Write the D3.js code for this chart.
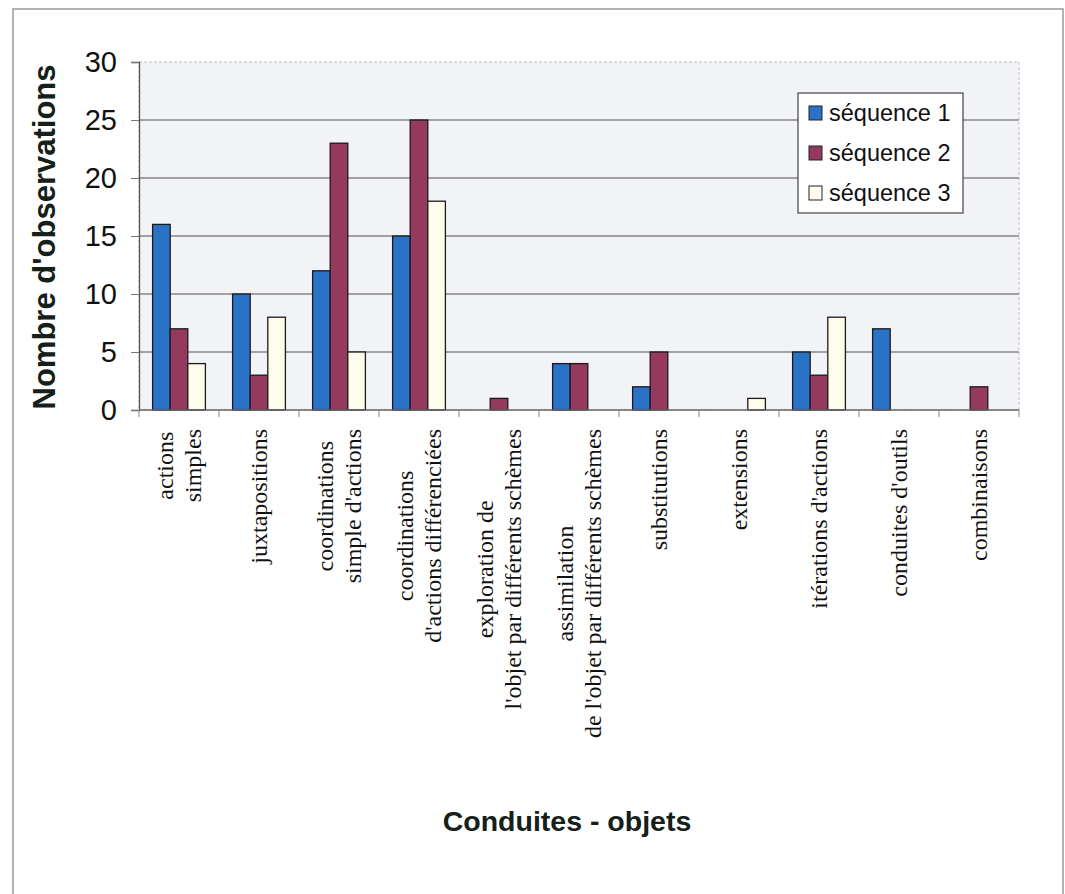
<!DOCTYPE html>
<html>
<head>
<meta charset="utf-8">
<script src="https://cdn.jsdelivr.net/npm/d3@7"></script>
<style>
  body { margin: 0; background: #fff; }
  svg { display: block; }
</style>
</head>
<body>
<div id="chart"></div>
<script>
// categories (each label split in its lines)
const categories = [
  ["actions", "simples"],
  ["juxtapositions"],
  ["coordinations", "simple d'actions"],
  ["coordinations", "d'actions différenciées"],
  ["exploration de", "l'objet par différents schèmes"],
  ["assimilation", "de l'objet par différents schèmes"],
  ["substitutions"],
  ["extensions"],
  ["itérations d'actions"],
  ["conduites d'outils"],
  ["combinaisons"]
]
const seriesNames = ["séquence 1", "séquence 2", "séquence 3"]
const seq1 = [16, 10, 12, 15, 0, 4, 2, 0, 5, 7, 0]
const seq2 = [7, 3, 23, 25, 1, 4, 5, 0, 3, 0, 2]
const seq3 = [4, 8, 5, 18, 0, 0, 0, 1, 8, 0, 0]
const yTicks = [0, 5, 10, 15, 20, 25, 30]

const colors = ["#2a72c6", "#96395f", "#fffcee"]

const W = 1065, H = 894
const plot = { left: 139, right: 1019, top: 62, bottom: 410 }

const svg = d3.select("#chart").append("svg")
  .attr("width", W)
  .attr("height", H)

// cadre extérieur
svg.append("path")
  .attr("d", `M13,${H} L13,9 L1063,9 L1063,${H}`)
  .attr("fill", "none")
  .attr("stroke", "#9a9a9a")
  .attr("stroke-width", 1.5)

const keys = categories.map((c, i) => i)
const x0 = d3.scaleBand()
  .domain(keys)
  .range([plot.left, plot.right])
  .paddingInner(0.34)
  .paddingOuter(0.17)
const x1 = d3.scaleBand()
  .domain([0, 1, 2])
  .range([0, x0.bandwidth()])
const y = d3.scaleLinear()
  .domain([0, 30])
  .range([plot.bottom, plot.top])

// fond de la zone de tracé
svg.append("rect")
  .attr("x", plot.left)
  .attr("y", plot.top)
  .attr("width", plot.right - plot.left)
  .attr("height", plot.bottom - plot.top)
  .attr("fill", "#f1f3f6")
  .attr("stroke", "#b8bcc2")
  .attr("stroke-dasharray", "3,2")

// grille
svg.append("g")
  .selectAll("line")
  .data(yTicks.filter(t => t > 0 && t < 30))
  .enter()
  .append("line")
  .attr("x1", plot.left)
  .attr("x2", plot.right)
  .attr("y1", d => y(d))
  .attr("y2", d => y(d))
  .attr("stroke", "#878787")
  .attr("stroke-width", 1.3)

// axe y
const yAxis = d3.axisLeft(y).tickValues(yTicks).tickSize(8).tickPadding(14)
const gy = svg.append("g")
  .attr("transform", `translate(${plot.left},0)`)
  .call(yAxis)
gy.select(".domain").attr("stroke", "#555").attr("stroke-width", 1.3)
gy.selectAll(".tick line").attr("stroke", "#777")
gy.selectAll(".tick text")
  .style("font-family", "Arial, 'Liberation Sans', sans-serif")
  .style("font-size", "29px")
  .attr("fill", "#111")

// barres
const rows = keys.map(i => [seq1[i], seq2[i], seq3[i]])
const groups = svg.append("g")
  .selectAll("g")
  .data(rows)
  .enter()
  .append("g")
  .attr("transform", (d, i) => `translate(${x0(i)},0)`)
groups.selectAll("rect")
  .data(d => d.map((v, s) => ({ v, s })).filter(e => e.v > 0))
  .enter()
  .append("rect")
  .attr("x", d => x1(d.s))
  .attr("y", d => y(d.v))
  .attr("width", x1.bandwidth())
  .attr("height", d => y(0) - y(d.v))
  .attr("fill", d => colors[d.s])
  .attr("stroke", "#1a1a1a")
  .attr("stroke-width", 1.3)

// axe x
const gx = svg.append("g")
  .attr("transform", `translate(0,${plot.bottom})`)
gx.append("line")
  .attr("x1", plot.left).attr("x2", plot.right)
  .attr("stroke", "#666").attr("stroke-width", 1.3)
gx.selectAll(".tk")
  .data(d3.range(categories.length + 1))
  .enter()
  .append("line")
  .attr("class", "tk")
  .attr("x1", i => plot.left + i * x0.step())
  .attr("x2", i => plot.left + i * x0.step())
  .attr("y1", 0).attr("y2", 7)
  .attr("stroke", "#888")

// étiquettes des catégories (verticales, centrées par bloc)
const lineGap = 28
const labelTop = 429
categories.forEach((lines, i) => {
  const cx = x0(i) + x0.bandwidth() / 2
  const g = svg.append("g")
  const texts = lines.map((t, j) => g.append("text")
    .attr("text-anchor", "middle")
    .attr("dominant-baseline", "central")
    .style("font-family", "'Liberation Serif', 'Times New Roman', serif")
    .style("font-size", "24px")
    .attr("fill", "#111")
    .text(t))
  const maxLen = d3.max(texts, t => t.node().getComputedTextLength())
  const cy = labelTop + maxLen / 2
  texts.forEach((t, j) => {
    const lx = cx + (j - (lines.length - 1) / 2) * lineGap
    t.attr("transform", `translate(${lx},${cy}) rotate(-90)`)
  })
})

// titres des axes
svg.append("text")
  .attr("transform", `translate(55,${(plot.top + plot.bottom) / 2 + 1}) rotate(-90)`)
  .attr("text-anchor", "middle")
  .style("font-family", "Arial, 'Liberation Sans', sans-serif")
  .style("font-size", "31px")
  .style("font-weight", "bold")
  .attr("fill", "#142018")
  .text("Nombre d'observations")

svg.append("text")
  .attr("x", 567)
  .attr("y", 831)
  .attr("text-anchor", "middle")
  .style("font-family", "Arial, 'Liberation Sans', sans-serif")
  .style("font-size", "28.5px")
  .style("font-weight", "bold")
  .attr("fill", "#142018")
  .text("Conduites - objets")

// légende
const legend = svg.append("g").attr("transform", "translate(798,93)")
legend.append("rect")
  .attr("width", 165)
  .attr("height", 120)
  .attr("fill", "#fff")
  .attr("stroke", "#444")
  .attr("stroke-width", 1.2)
seriesNames.forEach((name, s) => {
  const row = legend.append("g").attr("transform", `translate(0,${20 + s * 40})`)
  row.append("rect")
    .attr("x", 11).attr("y", -7)
    .attr("width", 13).attr("height", 14)
    .attr("fill", colors[s])
    .attr("stroke", "#222")
  row.append("text")
    .attr("x", 31)
    .attr("y", 0)
    .attr("dominant-baseline", "central")
    .style("font-family", "Arial, 'Liberation Sans', sans-serif")
    .style("font-size", "23.5px")
    .attr("fill", "#111")
    .text(name)
})
</script>
</body>
</html>
